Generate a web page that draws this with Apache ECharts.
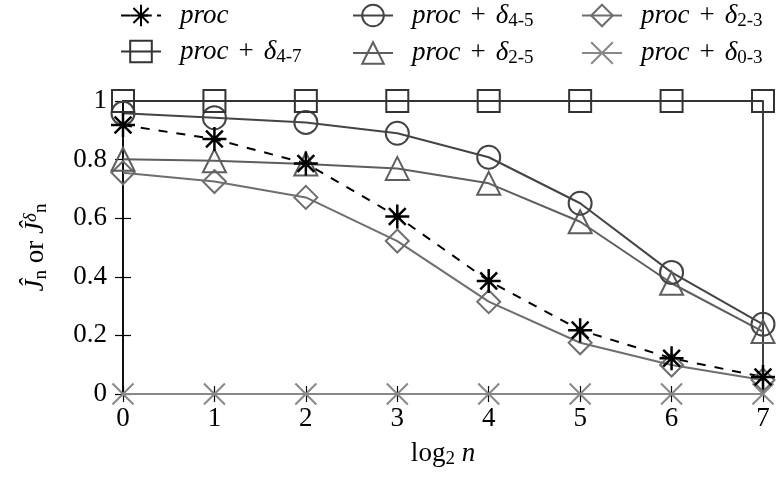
<!DOCTYPE html>
<html><head><meta charset="utf-8">
<script src="https://cdn.jsdelivr.net/npm/echarts@6/dist/echarts.min.js"></script>
<style>html,body{margin:0;padding:0;background:#fff}#c{width:778px;height:479px}</style>
</head><body><div id="c"></div>
<script>
const xValues = [0, 1, 2, 3, 4, 5, 6, 7];
const yTicks = ['0', '0.2', '0.4', '0.6', '0.8', '1'];
const seriesNames = ['proc', 'proc + δ4-7', 'proc + δ4-5', 'proc + δ2-5', 'proc + δ2-3', 'proc + δ0-3'];
const proc = [0.918, 0.870, 0.787, 0.606, 0.386, 0.218, 0.122, 0.058];
const d47 = [1, 1, 1, 1, 1, 1, 1, 1];
const d45 = [0.958, 0.943, 0.927, 0.890, 0.808, 0.651, 0.415, 0.238];
const d25 = [0.801, 0.796, 0.785, 0.770, 0.719, 0.588, 0.378, 0.213];
const d23 = [0.755, 0.725, 0.671, 0.522, 0.315, 0.175, 0.099, 0.048];
const d03 = [0, 0, 0, 0, 0, 0, 0, 0];

const FONT = '"Liberation Serif", "DejaVu Serif", serif';
const STAR = 'path://M0,10L20,10M10,0L10,20M3,3L17,17M3,17L17,3';
const CROSS = 'path://M0,0L20,20M0,20L20,0';

function pairs(ys) { return xValues.map((x, i) => [x, ys[i]]); }

function mk(name, ys, color, symbol, size, dashed, bw) {
  return {
    name: name, type: 'line', data: pairs(ys), clip: false, silent: true,
    symbol: symbol, symbolSize: size, showAllSymbol: true,
    lineStyle: { color: color, width: 2, type: dashed ? [9, 9] : 'solid' },
    itemStyle: { color: 'rgba(0,0,0,0)', borderColor: color, borderWidth: bw || 2 },
    emphasis: { disabled: true }
  };
}

const rich = {
  sp: { width: 14 },
  g: { width: 10 },
  i: { fontFamily: FONT, fontStyle: 'italic', fontSize: 27, lineHeight: 30, color: '#000' },
  r: { fontFamily: FONT, fontSize: 27, lineHeight: 30, color: '#000' },
  s: { fontFamily: FONT, fontSize: 19, lineHeight: 14, verticalAlign: 'bottom', color: '#000' },
  p: { fontFamily: FONT, fontStyle: 'italic', fontSize: 19, lineHeight: 14, verticalAlign: 'top', color: '#000' }
};

function legendFmt(name) {
  if (name === 'proc') return '{sp| }{i|proc}';
  return '{sp| }{i|proc}{g| }{r|+}{g| }{i|δ}{s|' + name.split('δ')[1] + '}';
}

function legendAt(left, names) {
  return {
    data: names, left: left, top: -3, orient: 'vertical',
    itemWidth: 40, itemHeight: 27, itemGap: 9,
    formatter: legendFmt, selectedMode: false,
    textStyle: { rich: rich, fontFamily: FONT, fontSize: 27 }
  };
}

const chart = echarts.init(document.getElementById('c'), null, { renderer: 'canvas' });
chart.setOption({
  animation: false,
  backgroundColor: '#fff',
  textStyle: { fontFamily: FONT },
  legend: [
    legendAt(115, [seriesNames[0], seriesNames[1]]),
    legendAt(347, [seriesNames[2], seriesNames[3]]),
    legendAt(576, [seriesNames[4], seriesNames[5]])
  ],
  grid: { left: 123, right: 15, top: 101, bottom: 85, show: true, borderColor: '#000', borderWidth: 1.5, backgroundColor: 'transparent' },
  xAxis: [{
    type: 'value', min: 0, max: 7, interval: 1, position: 'bottom',
    axisLine: { show: true, lineStyle: { color: '#000', width: 1.5 } },
    axisTick: { inside: true, length: 8, lineStyle: { color: '#000', width: 1.2 } },
    splitLine: { show: false },
    axisLabel: { fontFamily: FONT, fontSize: 27, color: '#000', margin: 11 },
    name: '{r|log}{s|2}{r| }{i|n}', nameLocation: 'middle', nameGap: 45,
    nameTextStyle: { rich: rich, fontFamily: FONT }
  }, {
    type: 'value', min: 0, max: 7, interval: 1, position: 'top',
    axisLine: { show: false }, axisTick: { inside: true, length: 8, lineStyle: { color: '#000', width: 1.2 } },
    splitLine: { show: false }, axisLabel: { show: false }
  }],
  yAxis: [{
    type: 'value', min: 0, max: 1, interval: 0.2, position: 'left',
    axisLine: { show: true, lineStyle: { color: '#000', width: 1.5 } },
    axisTick: { inside: true, length: 8, lineStyle: { color: '#000', width: 1.2 } },
    splitLine: { show: false },
    axisLabel: { fontFamily: FONT, fontSize: 27, color: '#000', margin: 16,
      formatter: (v) => yTicks[Math.round(v / 0.2)] },
    name: '{i|Ĵ}{s|n}{r| or }{i|Ĵ}{p|δ}{s|n}', nameLocation: 'middle', nameRotate: 90, nameGap: 72,
    nameTextStyle: { rich: rich, fontFamily: FONT }
  }, {
    type: 'value', min: 0, max: 1, interval: 0.2, position: 'right',
    axisLine: { show: false }, axisTick: { inside: true, length: 8, lineStyle: { color: '#000', width: 1.2 } },
    splitLine: { show: false }, axisLabel: { show: false }
  }],
  series: [
    mk(seriesNames[5], d03, '#888888', CROSS, 21, false),
    mk(seriesNames[4], d23, '#6e6e6e', 'diamond', 23, false),
    mk(seriesNames[3], d25, '#5e5e5e', 'triangle', 23, false),
    mk(seriesNames[2], d45, '#444444', 'circle', 23, false),
    mk(seriesNames[1], d47, '#333333', 'rect', 22, false),
    mk(seriesNames[0], proc, '#000000', STAR, 24, true, 2.5)
  ]
});
</script></body></html>
